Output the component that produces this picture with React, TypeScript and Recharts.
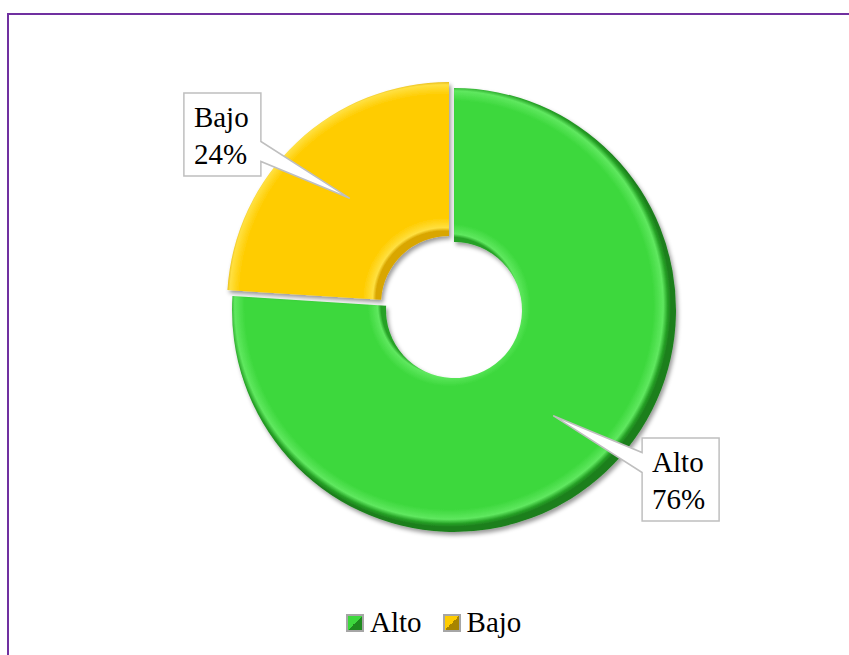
import { PieChart, Pie, Cell, Legend } from "recharts";

const categories = ["Alto", "Bajo"];
const shares = [76, 24];
const legendColors = ["#3dd83d", "#ffcc00"];

const data = categories.map((name, i) => ({ name, value: shares[i] }));

const RADIAN = Math.PI / 180;
const FONT = '"Liberation Serif", "Times New Roman", serif';
const INNER = 68;
const OUTER = 222;
// Alto sits at the middle, Bajo is pulled out a little up-left
const ALTO_C = { x: 449, y: 305 };
const BAJO_C = { x: 444, y: 299 };

function renderCallout(only: number) {
  return (props: any) => {
    const { cx, cy, midAngle, innerRadius, outerRadius, name, percent, index } = props;
    if (index !== only) return null;
    const tipR = (innerRadius + outerRadius) / 2;
    const tipX = cx + tipR * Math.cos(-midAngle * RADIAN);
    const tipY = cy + tipR * Math.sin(-midAngle * RADIAN);
    const a = (midAngle + 10) * RADIAN;
    const bx = cx + 283 * Math.cos(-a);
    const by = cy + 283 * Math.sin(-a);
    const w = 77;
    const h = 83;
    const x = bx - w / 2;
    const y = by - h / 2;
    const mid = by + (tipY > by ? 17 : -17);
    const b0 = mid - 10;
    const b1 = mid + 10;
    const d =
      tipX > x + w
        ? `M${x},${y}L${x + w},${y}L${x + w},${b0}L${tipX},${tipY}L${x + w},${b1}L${x + w},${y + h}L${x},${y + h}Z`
        : `M${x},${y}L${x + w},${y}L${x + w},${y + h}L${x},${y + h}L${x},${b1}L${tipX},${tipY}L${x},${b0}Z`;
    return (
      <g>
        <path d={d} fill="#fff" stroke="#bfbfbf" strokeWidth={1.5} />
        <text x={x + 10} y={y + 34} fontFamily={FONT} fontSize={29} fill="#000">
          {name}
        </text>
        <text x={x + 10} y={y + 71} fontFamily={FONT} fontSize={29} fill="#000">
          {`${Math.round(percent * 100)}%`}
        </text>
      </g>
    );
  };
}

function LegendBox() {
  return (
    <div style={{ display: "flex", alignItems: "center", fontFamily: FONT, fontSize: 29, color: "#000" }}>
      {categories.map((c, i) => (
        <div key={c} style={{ display: "flex", alignItems: "center", marginRight: i === 0 ? 21 : 0 }}>
          <span
            style={{
              display: "inline-block",
              width: 14,
              height: 14,
              border: "2px solid #a6a6a6",
              background: `linear-gradient(135deg, ${legendColors[i]} 50%, ${i === 0 ? "#1f8a1f" : "#a88400"} 50%)`,
              marginRight: 6,
            }}
          />
          <span>{c}</span>
        </div>
      ))}
    </div>
  );
}

function ringStops(edge: string, light: string, main: string, dark: string) {
  const f = INNER / OUTER;
  return (
    <>
      <stop offset={f} stopColor={edge} />
      <stop offset={f + 0.015} stopColor={light} />
      <stop offset={f + 0.06} stopColor={main} />
      <stop offset={0.92} stopColor={main} />
      <stop offset={0.965} stopColor={light} />
      <stop offset={0.985} stopColor={edge} />
      <stop offset={1} stopColor={dark} />
    </>
  );
}

export default function App() {
  return (
    <div style={{ position: "fixed", left: 0, top: 0, width: 849, height: 655, overflow: "hidden", background: "#fff" }}>
      <div
        style={{
          position: "absolute",
          left: 7,
          top: 13,
          width: 900,
          height: 700,
          border: "2px solid #7030a0",
          boxSizing: "border-box",
        }}
      />
      <div style={{ position: "absolute", left: 0, top: 0 }}>
        <PieChart width={849} height={655}>
          <defs>
            <radialGradient id="gAlto" gradientUnits="userSpaceOnUse" cx={ALTO_C.x} cy={ALTO_C.y} r={OUTER}>
              {ringStops("#26a126", "#5fe85f", "#3dd83d", "#1d7f1d")}
            </radialGradient>
            <radialGradient id="gBajo" gradientUnits="userSpaceOnUse" cx={BAJO_C.x} cy={BAJO_C.y} r={OUTER}>
              {ringStops("#d9a600", "#ffe040", "#ffcc00", "#b88c00")}
            </radialGradient>
            <filter id="shade" x="-20%" y="-20%" width="140%" height="140%">
              <feDropShadow dx={2} dy={3} stdDeviation={2} floodColor="#000" floodOpacity={0.4} />
            </filter>
          </defs>
          <Pie
            data={data}
            dataKey="value"
            nameKey="name"
            cx={ALTO_C.x}
            cy={ALTO_C.y}
            innerRadius={INNER}
            outerRadius={OUTER}
            startAngle={90}
            endAngle={-270}
            stroke="none"
            labelLine={false}
            label={renderCallout(0)}
            isAnimationActive={false}
          >
            <Cell fill="url(#gAlto)" filter="url(#shade)" />
            <Cell fill="none" />
          </Pie>
          <Pie
            data={data}
            dataKey="value"
            nameKey="name"
            cx={BAJO_C.x}
            cy={BAJO_C.y}
            innerRadius={INNER}
            outerRadius={OUTER}
            startAngle={90}
            endAngle={-270}
            stroke="none"
            labelLine={false}
            label={renderCallout(1)}
            isAnimationActive={false}
          >
            <Cell fill="none" />
            <Cell fill="url(#gBajo)" filter="url(#shade)" />
          </Pie>
          <Legend content={() => <LegendBox />} wrapperStyle={{ left: 346, top: 606, width: 220 }} />
        </PieChart>
      </div>
    </div>
  );
}
